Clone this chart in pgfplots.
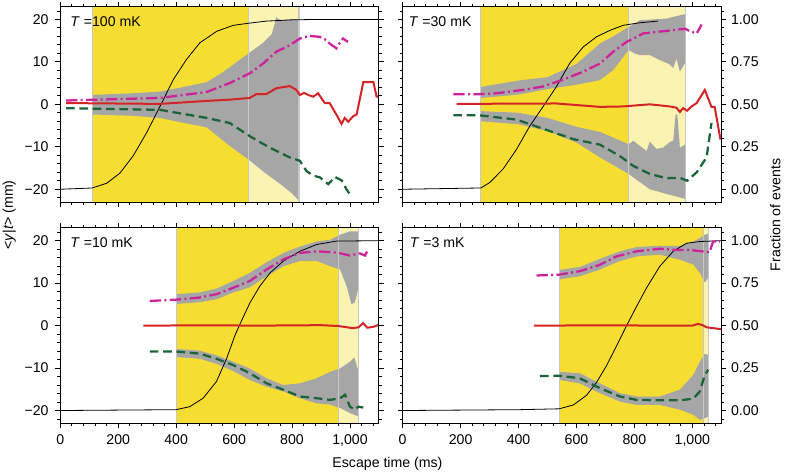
\documentclass[border=0pt]{standalone}
\usepackage{fontspec}
\setmainfont{Liberation Sans}
\usepackage{pgfplots}
\pgfplotsset{compat=1.18}
\definecolor{yel}{RGB}{246,221,50}
\definecolor{lyel}{RGB}{251,243,178}
\definecolor{band}{RGB}{166,166,166}
\definecolor{sepc}{RGB}{200,200,200}
\definecolor{mag}{RGB}{206,34,154}
\definecolor{rd}{RGB}{212,36,40}
\definecolor{grn}{RGB}{28,100,56}
\newcommand{\fnt}{\fontsize{10.6}{12}\selectfont}
\pgfplotsset{
 panel/.style={
  width=239pt, height=146.5pt, scale only axis, anchor=south west,
  xmin=0, xmax=1100, ymin=-23, ymax=23,
  axis on top, tick align=outside, xtick pos=both, ytick pos=both,
  xtick={0,200,...,1000}, minor xtick={40,80,...,1080},
  ytick={-20,-10,0,10,20}, minor ytick={-22,-20,...,22},
  major tick length=3.8pt, minor tick length=2.2pt,
  tick style={black, line width=0.6pt},
  axis line style={line width=0.7pt},
  tick label style={font=\fnt},
  /pgf/number format/assume math mode=true,
  xticklabels={},
 },
 leftp/.style={yticklabels={−20,−10,0,10,20}, yticklabel style={xshift=-1.5pt}},
 rightp/.style={yticklabel pos=right, yticklabels={0.00,0.25,0.50,0.75,1.00}, yticklabel style={xshift=0pt}},
 bottomp/.style={xticklabels={0,200,400,600,800,{1,000}}, xticklabel style={yshift=-1.5pt}},
 blk/.style={black, line width=0.6pt, no marks},
 mg/.style={mag, line width=1.7pt, dash pattern=on 8.5pt off 2.5pt on 1.5pt off 2.5pt, no marks},
 rdl/.style={rd, line width=1.5pt, no marks},
 gn/.style={grn, line width=1.7pt, dash pattern=on 6.5pt off 3.5pt, no marks},
 bnd/.style={fill=band, draw=none},
 sepl/.style={sepc, line width=0.8pt, no marks},
}
\newcommand{\ttl}[2]{\node[anchor=west, font=\fnt] at (rel axis cs:#1,0.925) {#2};}
\begin{document}
\begin{tikzpicture}
\useasboundingbox (0,0) rectangle (589.5pt,354.75pt);
% ---------------- T = 100 mK
\begin{axis}[panel, leftp, at={(45.2pt,203.25pt)}]
\addplot[fill=yel, draw=none] coordinates {(110,-30) (650,-30) (650,30) (110,30)} -- cycle;
\addplot[fill=lyel, draw=none] coordinates {(650,-30) (824,-30) (824,30) (650,30)} -- cycle;
\addplot[bnd] coordinates {(110,2.2) (250,2.6) (344,3.0) (420,4.0) (505,5.2) (560,7.5) (600,9.5) (650,12.0) (700,14.5) (730,16.5) (746,20.5) (760,19.8) (800,20.0) (824,20.0)
 (824,-22.7) (800,-21.0) (760,-18.8) (700,-15.8) (650,-13.0) (585,-9.8) (505,-5.4) (420,-4.3) (344,-3.2) (250,-2.7) (110,-2.4)} -- cycle;
\addplot[sepl] coordinates {(110,-30) (110,30)};
\addplot[sepl] coordinates {(650,-30) (650,30)};
\addplot[sepl] coordinates {(824,-30) (824,30)};
\addplot[blk] coordinates {(0,-20) (110,-19.7) (160,-18.6) (206,-16.2) (252,-12.1) (298,-6.7) (333,-2) (356,1.1) (390,5.8) (436,10.6) (482,14.5) (540,17.2) (597,18.6) (650,19.1) (712,19.6) (800,19.9) (900,20) (1100,20)};
\addplot[gn] coordinates {(20,-0.9) (344,-1.3) (505,-3.2) (585,-4.4) (654,-7.5) (723,-10.2) (792,-12.5) (827,-13.3) (850,-15.7) (873,-16.8) (896,-17.2) (925,-18.8) (948,-17.1) (971,-17.9) (988,-20) (1005,-21.7)};
\addplot[rdl] coordinates {(20,0.3) (344,0.1) (505,0.8) (585,1.1) (654,1.5) (677,2.4) (711,2.4) (746,3.8) (792,4.3) (815,3.4) (827,2.2) (842,2.7) (856,2.2) (873,1.8) (890,2.6) (913,0.3) (930,0.3) (953,-2.4) (971,-4.6) (982,-3.2) (994,-4.1) (1011,-2.8) (1023,-2.4) (1046,5.2) (1081,5.2) (1092,1.8) (1100,1.8)};
\addplot[mg] coordinates {(20,0.9) (344,1.5) (505,2.9) (585,5.0) (654,7.3) (700,9.6) (746,12.4) (792,13.9) (827,15.5) (861,16.1) (896,15.9) (919,15.1) (930,14.3) (953,13.2) (965,14.5) (976,15.5) (993,14.7)};
\ttl{0.017}{\textit{T} =100 mK}
\end{axis}
% ---------------- T = 30 mK
\begin{axis}[panel, rightp, at={(302pt,203.25pt)}]
\addplot[fill=yel, draw=none] coordinates {(270,-30) (780,-30) (780,30) (270,30)} -- cycle;
\addplot[fill=lyel, draw=none] coordinates {(780,-30) (977,-30) (977,30) (780,30)} -- cycle;
\addplot[bnd] coordinates {(270,4.1) (400,5.6) (500,6.4) (600,9.5) (681,14.3) (727,16) (780,18.2) (819,19.8) (911,20.2) (977,21.3)
 (977,10) (957,7.7) (945,10.8) (934,8.5) (920,9.5) (888,10.4) (853,11.6) (819,11.6) (800,12) (780,12.8) (727,8.1) (681,5.7) (600,4.6) (500,3.6) (400,2.3) (270,1.5)} -- cycle;
\addplot[bnd] coordinates {(270,-1.6) (400,-2.0) (500,-3.2) (600,-5.3) (681,-6.5) (780,-9.4) (796,-8.6) (819,-9.8) (842,-11) (853,-8.8) (876,-10.5) (899,-10.2) (920,-9) (934,-8.5) (942,-2.4) (948,-2.4) (957,-10.2) (977,-9.4)
 (977,-22.3) (911,-21.1) (853,-20) (780,-16.4) (681,-12.5) (600,-9.0) (500,-6.3) (400,-4.7) (270,-4.0)} -- cycle;
\addplot[sepl] coordinates {(270,-30) (270,30)};
\addplot[sepl] coordinates {(780,-30) (780,30)};
\addplot[sepl] coordinates {(977,-30) (977,30)};
\addplot[blk] coordinates {(0,-20) (270,-19.7) (301,-18.4) (347,-15.2) (393,-10.6) (439,-5.1) (485,-0.5) (531,4.2) (577,9.7) (623,13.5) (669,15.9) (715,17.4) (761,18.6) (818,19.2) (881,19.6)};
\addplot[gn] coordinates {(175,-2.6) (267,-2.6) (393,-3.6) (474,-5.5) (589,-8.2) (681,-9.5) (750,-12.2) (796,-14.5) (853,-16.4) (911,-17.4) (957,-17.3) (982,-18) (1015,-16) (1049,-12.5) (1066,-4.4)};
\addplot[rdl] coordinates {(186,0.1) (531,0.2) (681,-0.6) (761,-0.5) (853,0) (922,-0.5) (945,-0.8) (957,-1.8) (968,-0.9) (982,-1.5) (997,-0.5) (1015,0.3) (1043,3.4) (1066,-0.6) (1077,-0.6) (1097,-8.3)};
\addplot[mg] coordinates {(175,2.4) (267,2.4) (324,2.6) (416,3.4) (485,4.2) (554,5.8) (623,7.7) (681,9.6) (727,12.4) (773,14.7) (831,16.7) (911,17.3) (975,17.8) (992,17.2) (1015,16.7) (1032,18.8)};
\ttl{0.005}{\textit{T} =30 mK}
\end{axis}
% ---------------- T = 10 mK
\begin{axis}[panel, leftp, bottomp, at={(45.2pt,37.3pt)}]
\addplot[fill=yel, draw=none] coordinates {(400,-30) (960,-30) (960,30) (400,30)} -- cycle;
\addplot[fill=lyel, draw=none] coordinates {(960,-30) (1030,-30) (1030,30) (960,30)} -- cycle;
\addplot[bnd] coordinates {(400,7.4) (481,7.8) (539,8.7) (597,10.5) (654,12.4) (712,14.9) (770,17.1) (827,18.6) (885,19.8) (931,20.2) (966,21.4) (1000,22.2) (1030,22.2)
 (1030,9) (1017,5.5) (1005,5) (990,9) (966,13.2) (931,14) (885,15.2) (827,15.2) (770,14.0) (712,11.6) (654,9.0) (597,7.8) (539,6.2) (481,5.5) (400,5.1)} -- cycle;
\addplot[bnd] coordinates {(400,-5.5) (481,-5.9) (539,-7.0) (597,-8.5) (654,-10.1) (712,-12.4) (770,-14.0) (827,-13.6) (885,-12.4) (931,-10.9) (966,-10.1) (1000,-8.5) (1015,-7.5) (1030,-10.9)
 (1030,-21.4) (1000,-20.6) (966,-19.4) (931,-18.6) (885,-18.3) (827,-17.1) (770,-15.5) (712,-14.4) (654,-12.8) (597,-10.7) (539,-9.0) (481,-7.8) (400,-7.4)} -- cycle;
\addplot[sepl] coordinates {(400,-30) (400,30)};
\addplot[sepl] coordinates {(960,-30) (960,30)};
\addplot[sepl] coordinates {(1030,-30) (1030,30)};
\addplot[blk] coordinates {(0,-20) (400,-19.8) (447,-19.1) (493,-17.1) (539,-13.2) (574,-7.8) (603,-2.3) (626,1.2) (655,5.4) (689,9.3) (724,12.4) (770,15.2) (827,17.5) (885,19.1) (954,19.9) (1100,20)};
\addplot[gn] coordinates {(309,-6.1) (399,-6.1) (481,-6.6) (539,-7.8) (597,-9.3) (654,-11.2) (712,-13.6) (770,-15.1) (827,-16.7) (885,-17.1) (931,-17.5) (966,-17.1) (983,-16.3) (1000,-19.1) (1017,-19.8) (1029,-19.1) (1046,-19.3)};
\addplot[rdl] coordinates {(287,0) (500,0.05) (700,0) (900,0.1) (960,-0.1) (980,-0.3) (1010,-0.6) (1030,-0.4) (1045,0.6) (1060,-0.5) (1080,-0.3) (1100,0.2)};
\addplot[mg] coordinates {(309,5.8) (399,6.1) (481,6.6) (539,7.4) (597,8.9) (654,10.5) (712,13.2) (770,15.6) (827,17.1) (885,17.5) (954,17.2) (1000,16.5) (1034,17) (1052,16.5) (1063,18)};
\ttl{0.017}{\textit{T} =10 mK}
\end{axis}
% ---------------- T = 3 mK
\begin{axis}[panel, rightp, bottomp, at={(302pt,37.3pt)}]
\addplot[fill=yel, draw=none] coordinates {(540,-30) (1039,-30) (1039,30) (540,30)} -- cycle;
\addplot[fill=lyel, draw=none] coordinates {(1039,-30) (1057,-30) (1057,30) (1039,30)} -- cycle;
\addplot[bnd] coordinates {(540,13.1) (611,13.8) (680,15.7) (750,17.5) (808,18.5) (888,18.8) (957,18.8) (1003,19.8) (1026,20.6) (1043,21.4) (1057,21.7)
 (1057,11.6) (1043,10.1) (1026,12.4) (1003,14.4) (957,15.5) (888,16.7) (808,16.3) (750,15.2) (680,13.2) (611,11.6) (540,10.9)} -- cycle;
\addplot[bnd] coordinates {(540,-10.9) (611,-11.2) (680,-13.6) (750,-15.9) (808,-16.7) (888,-16.7) (957,-15.1) (1003,-11.6) (1026,-8.5) (1043,-6.6) (1057,-7.0)
 (1057,-21.4) (1043,-21.8) (1026,-22.2) (1003,-21.0) (957,-19.8) (888,-18.7) (808,-18.7) (750,-17.9) (680,-15.9) (611,-13.6) (540,-12.8)} -- cycle;
\addplot[sepl] coordinates {(540,-30) (540,30)};
\addplot[sepl] coordinates {(1039,-30) (1039,30)};
\addplot[sepl] coordinates {(1057,-30) (1057,30)};
\addplot[blk] coordinates {(0,-20) (404,-19.8) (540,-19.6) (589,-18.7) (635,-16.4) (670,-13.3) (704,-9.4) (739,-4.7) (773,0) (808,4.6) (842,8.9) (888,14) (934,17.5) (980,19.4) (1026,19.8) (1100,20)};
\addplot[gn] coordinates {(474,-11.9) (540,-11.8) (611,-12.4) (680,-14.7) (750,-16.7) (808,-17.5) (888,-17.6) (957,-17.6) (1003,-17.2) (1026,-15.5) (1043,-11.6) (1055,-10.4)};
\addplot[rdl] coordinates {(453,0) (700,0.05) (900,0) (1000,0) (1020,0.4) (1035,0.1) (1049,-0.4) (1095,-0.8) (1100,-0.8)};
\addplot[mg] coordinates {(462,11.8) (540,12.0) (611,12.8) (680,14.3) (738,16.3) (808,17.5) (888,18.1) (945,17.8) (991,17.8) (1032,17.5) (1060,17.3) (1066,18.7) (1072,19.8) (1095,19.8)};
\ttl{0.008}{\textit{T} =3 mK}
\end{axis}
% ---------------- shared labels
\node[rotate=90, font=\fnt] at (7pt,193.5pt) {<\textit{y}|\textit{t}> (mm)};
\node[rotate=90, font=\fnt] at (581.5pt,193.5pt) {Fraction of events};
\node[font=\fnt] at (290.6pt,6.5pt) {Escape time (ms)};
\end{tikzpicture}
\end{document}
